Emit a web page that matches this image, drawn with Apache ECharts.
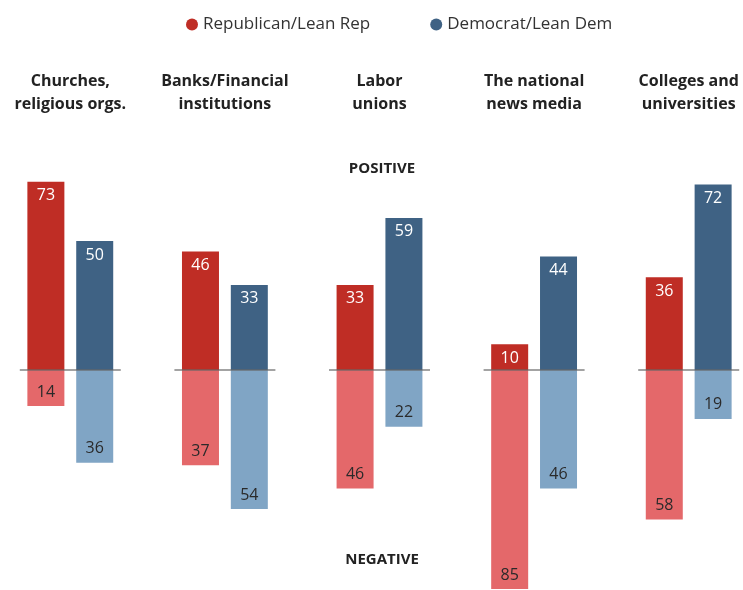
<!DOCTYPE html>
<html>
<head>
<meta charset="utf-8">
<title>Views of institutions by party</title>
<script src="https://cdn.jsdelivr.net/npm/echarts@6/dist/echarts.min.js"></script>
<style>
	html, body { margin: 0; padding: 0; background: #fff; }
	#chart { width: 743px; height: 590px; }
</style>
</head>
<body>
<div id="chart"></div>
<script>
var categories = ['Churches,\nreligious orgs.', 'Banks/Financial\ninstitutions', 'Labor\nunions', 'The national\nnews media', 'Colleges and\nuniversities'];
var repPositive = [73, 46, 33, 10, 36];
var demPositive = [50, 33, 59, 44, 72];
var repNegative = [14, 37, 46, 85, 58];
var demNegative = [36, 54, 22, 46, 19];
var baseline = [0, 0, 0, 0, 0];

var fontFamily = '"Open Sans", Roboto, sans-serif';

window.onload = function () {
	var chart = echarts.init(document.getElementById('chart'));

	function negate(list) {
		return list.map(function (v) { return -v; });
	}

	function barLabel(pos, color) {
		return {
			show: true,
			position: pos,
			distance: 6,
			color: color,
			fontSize: 16,
			fontFamily: fontFamily,
			formatter: function (p) { return Math.abs(p.value); }
		};
	}

	var option = {
		animation: false,
		legend: {
			left: 181,
			top: 11,
			icon: 'circle',
			itemWidth: 12,
			itemHeight: 12,
			itemGap: 60,
			data: ['Republican/Lean Rep', 'Democrat/Lean Dem'],
			textStyle: { fontSize: 17, color: '#333', fontFamily: fontFamily }
		},
		grid: {
			left: -7,
			right: -23,
			top: 138,
			bottom: 1,
			outerBoundsMode: 'none'
		},
		xAxis: {
			type: 'category',
			position: 'top',
			data: categories,
			axisLine: { show: false },
			axisTick: { show: false },
			axisLabel: {
				margin: 22,
				interval: 0,
				color: '#222',
				fontSize: 16,
				fontWeight: 'bold',
				lineHeight: 23,
				fontFamily: fontFamily
			}
		},
		yAxis: {
			type: 'value',
			min: -85,
			max: 90,
			show: false,
			splitLine: { show: false }
		},
		graphic: [
			{
				type: 'text', x: 382, y: 161,
				style: { text: 'POSITIVE', textAlign: 'center', font: 'bold 15px ' + fontFamily, fill: '#222' }
			},
			{
				type: 'text', x: 382, y: 552,
				style: { text: 'NEGATIVE', textAlign: 'center', font: 'bold 15px ' + fontFamily, fill: '#222' }
			}
		],
		series: [
			{
				name: 'Republican/Lean Rep',
				type: 'bar',
				stack: 'rep',
				barWidth: 37,
				barGap: '32%',
				itemStyle: { color: '#bf2d25' },
				label: barLabel('insideTop', '#fff'),
				data: repPositive
			},
			{
				name: 'Democrat/Lean Dem',
				type: 'bar',
				stack: 'dem',
				barWidth: 37,
				barGap: '32%',
				itemStyle: { color: '#3f6284' },
				label: barLabel('insideTop', '#fff'),
				data: demPositive
			},
			{
				name: 'Rep negative',
				type: 'bar',
				stack: 'rep',
				barWidth: 37,
				barGap: '32%',
				itemStyle: { color: '#e4686a' },
				label: barLabel('insideBottom', '#2a2a2a'),
				data: negate(repNegative)
			},
			{
				name: 'Dem negative',
				type: 'bar',
				stack: 'dem',
				barWidth: 37,
				barGap: '32%',
				itemStyle: { color: '#80a5c5' },
				label: barLabel('insideBottom', '#2a2a2a'),
				data: negate(demNegative)
			},
			{
				// zero line under each pair of bars
				name: 'baseline',
				type: 'scatter',
				symbol: 'rect',
				symbolSize: [101, 1.5],
				z: 5,
				silent: true,
				itemStyle: { color: '#666' },
				data: baseline
			}
		]
	};
	chart.setOption(option);
};
</script>
</body>
</html>
